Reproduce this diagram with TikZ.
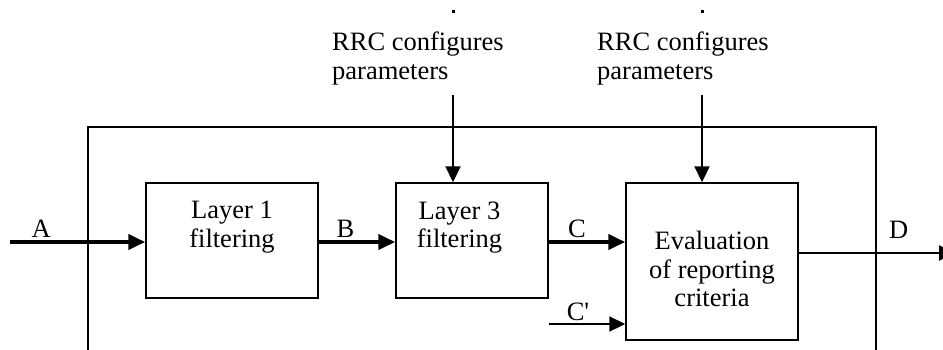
\documentclass[tikz,border=0pt]{standalone}
\usepackage{fontspec}
\setmainfont{Liberation Serif}
\usetikzlibrary{arrows.meta}
\usetikzlibrary{positioning}
\tikzset{>={Triangle[length=17pt,width=15pt]}}

\begin{document}
\begin{tikzpicture}[x=1pt, y=-1pt,
    blk/.style={draw, line width=1.5pt, inner sep=0pt},
    txt/.style={font=\fontsize{26.5}{28.5}\selectfont, align=center, inner sep=0pt},
    lbl/.style={font=\fontsize{26.5}{28.5}\selectfont, inner sep=0pt, anchor=base},
    thick arrow/.style={->, line width=4pt},
    thin arrow/.style={-{Triangle[length=16pt,width=15pt]}, line width=2.2pt}]
  \useasboundingbox (0, 0) rectangle (943, 349);
  % node
  \node[blk, minimum width=172pt, minimum height=115pt] (l1) at (232, 240.5) {};
  \node[blk, minimum width=152pt, minimum height=115pt] (l3) at (472, 240.5) {};
  \node[blk, minimum width=172pt, minimum height=157pt] (ev) at (712, 261.5) {};
  \node[txt, below=19pt of l1.north] (l1txt) {Layer 1\\filtering};
  \node[txt, below=19pt of l3.north, xshift=-12.5pt] (l3txt) {Layer 3\\filtering};
  \node[txt, below=49pt of ev.north] (evtxt) {Evaluation\\of reporting\\criteria};
  \node[txt, align=left, anchor=north west] (rrc1) at (332, 32) {RRC configures\\parameters};
  \node[txt, align=left, anchor=north west] (rrc2) at (597, 32) {RRC configures\\parameters};
  \fill (452, 9.5) rectangle (454.5, 12.5);
  \fill (701, 9.5) rectangle (703.5, 12.5);
  % frame
  \draw[line width=1.5pt] (88, 352) |- (876, 127) -- (876, 352);
  % lines
  \coordinate (ain) at (10, 242);
  \coordinate (cin) at (549, 324);
  \coordinate (dout) at (955, 253);
  \coordinate (r1) at (453, 95);
  \coordinate (r2) at (702, 95);
  \draw[thick arrow] (ain) -- node[lbl, pos=.23, yshift=5pt] (la) {A} (ain -| l1.west);
  \draw[thick arrow] (ain -| l1.east) -- node[lbl, pos=.35, yshift=5pt] (lb) {B} (ain -| l3.west);
  \draw[thick arrow] (ain -| l3.east) -- node[lbl, pos=.37, yshift=5pt] (lc) {C} (ain -| ev.west);
  \draw[thin arrow] (cin) -- node[lbl, pos=.38, yshift=4pt] (lcp) {C\textquotesingle} (cin -| ev.west);
  \draw[thin arrow] (dout -| ev.east) -- node[lbl, pos=.64, yshift=15pt] (ld) {D} (dout);
  \draw[thin arrow] (r1) -- (r1 |- l3.north);
  \draw[thin arrow] (r2) -- (r2 |- ev.north);
\end{tikzpicture}
\end{document}
